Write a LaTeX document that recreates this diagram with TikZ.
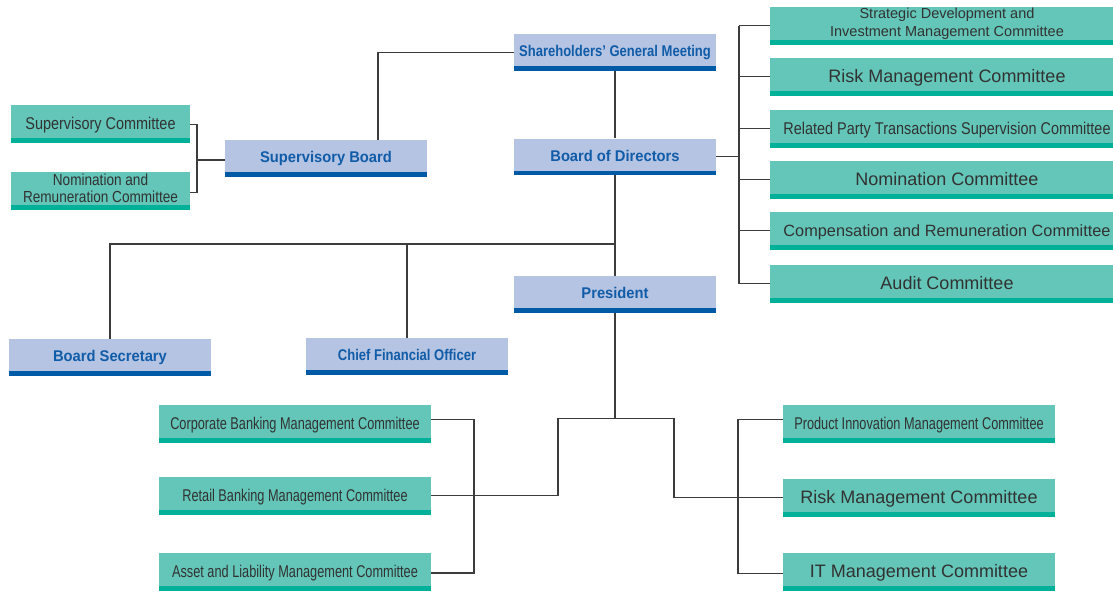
\documentclass[tikz,border=0pt]{standalone}
\usepackage{fontspec}
\usepackage{xcolor}
\setmainfont{Liberation Sans}
\newfontfamily\cmtfont{Liberation Sans}
\newfontfamily\cmtmid[FakeStretch=0.85]{Liberation Sans}
\newfontfamily\cmtnarrow[FakeStretch=0.75]{Liberation Sans}
\newfontfamily\blufont[FakeStretch=0.95]{Liberation Sans}
\newfontfamily\blucond[FakeStretch=0.84]{Liberation Sans}

\definecolor{boxblue}{RGB}{181,196,226}
\definecolor{barblue}{RGB}{0,90,165}
\definecolor{textblue}{RGB}{16,92,168}
\definecolor{boxgreen}{RGB}{99,198,184}
\definecolor{bargreen}{RGB}{0,176,152}
\definecolor{textgray}{RGB}{50,50,50}
\definecolor{linegray}{RGB}{60,60,60}

\begin{document}
\begin{tikzpicture}[x=1pt, y=-1pt]
    \tikzstyle{barred}=[append after command={\pgfextra{\fill[#1] (\tikzlastnode.south west) rectangle ([yshift=-4.5pt]\tikzlastnode.south east);}}]
    \tikzstyle{bluebox}=[fill=boxblue, text=textblue, minimum width=202pt, minimum height=32pt, inner sep=0pt,
        text height=13.7pt, text depth=0pt, font=\blufont\bfseries\fontsize{15.5}{17}\selectfont, barred=barblue]
    \tikzstyle{greenbox}=[fill=boxgreen, text=textgray, minimum width=#1, minimum height=33pt, inner sep=0pt, barred=bargreen]
    \tikzstyle{cmtwide}=[font=\cmtfont\fontsize{18}{20}\selectfont, text height=15.5pt, text depth=0pt]
    \tikzstyle{cmtmid}=[font=\cmtmid\fontsize{17}{19}\selectfont, text height=15pt, text depth=0pt]
    \tikzstyle{cmtnarrow}=[font=\cmtnarrow\fontsize{17}{19}\selectfont, text height=15pt, text depth=0pt]
    \tikzstyle{link}=[draw=linegray, line width=1.3pt]

    \useasboundingbox (0,0) rectangle (1113,590);

    % --- TOP: governing bodies ---
    \node[bluebox, font=\blucond\bfseries\fontsize{15.5}{17}\selectfont] (share) at (615,50) {Shareholders’ General Meeting};
    \node[bluebox] (board) at (615,154.5) {Board of Directors};
    \node[bluebox] (supb)  at (326,156)   {Supervisory Board};
    \node[bluebox] (pres)  at (615,292)   {President};
    \node[bluebox] (bsec)  at (110,355)   {Board Secretary};
    \node[bluebox, font=\blucond\bfseries\fontsize{15.5}{17}\selectfont] (cfo) at (407,354) {Chief Financial Officer};

    % --- Supervisory Board committees (left) ---
    \node[greenbox=179pt, cmtmid] (supc) at (100.5,121.5) {Supervisory Committee};
    \node[greenbox=179pt, align=center, font=\cmtmid\fontsize{16}{16.7}\selectfont] (nomrem) at (100.5,188.5)
        {Nomination and\\Remuneration Committee};

    % --- Board committees (right column, runs off the page edge) ---
    \node[greenbox=354pt, align=center, font=\cmtfont\fontsize{14.5}{17.5}\selectfont] (strat) at (947,23.5)
        {Strategic Development and\\Investment Management Committee};
    \node[greenbox=354pt, cmtwide] (riskc) at (947,74.5)  {Risk Management Committee};
    \node[greenbox=354pt, cmtmid]  (rpt)   at (947,126.5) {Related Party Transactions Supervision Committee};
    \node[greenbox=354pt, cmtwide] (nomc)  at (947,177.5) {Nomination Committee};
    \node[greenbox=354pt, cmtwide, font=\cmtfont\fontsize{16.3}{18}\selectfont] (comp) at (947,228.5)
        {Compensation and Remuneration Committee};
    \node[greenbox=354pt, cmtwide] (audit) at (947,281.5) {Audit Committee};

    % --- President committees (bottom) ---
    \node[greenbox=272pt, cmtnarrow] (corp)   at (295,421.5) {Corporate Banking Management Committee};
    \node[greenbox=272pt, cmtnarrow] (retail) at (295,493.5) {Retail Banking Management Committee};
    \node[greenbox=272pt, cmtnarrow] (alm)    at (295,569.5) {Asset and Liability Management Committee};
    \node[greenbox=272pt, cmtnarrow] (prod)   at (919,421.5) {Product Innovation Management Committee};
    \node[greenbox=272pt, cmtwide]   (riskb)  at (919,495.5) {Risk Management Committee};
    \node[greenbox=272pt, cmtwide]   (itc)    at (919,569.5) {IT Management Committee};

    % --- CONNECTORS ---
    \draw[link] ([yshift=-4.5pt]share.south) -- (board.north);
    \draw[link] ([xshift=52pt]supb.north) |- ([yshift=-2.25pt]share.west);

    % supervisory committees
    \coordinate (sj) at (197,160);
    \draw[link] ([yshift=-3pt]supc.east) -| (sj) |- ([yshift=-4pt]nomrem.east);
    \draw[link] (sj) -- (sj -| supb.west);

    % board down to president, secretary and CFO
    \draw[link] ([yshift=-4.5pt]board.south) -- (pres.north);
    \coordinate (hb) at (615,244);
    \draw[link] (bsec.north) |- (hb);
    \draw[link] (cfo.north) -- (cfo.north |- hb);

    % board committees
    \coordinate (rt) at (739,0);
    \coordinate (bj) at ([yshift=-2.25pt]board.east);
    \draw[link] (bj) -- (bj -| rt);
    \foreach \n in {strat,riskc,rpt,nomc,comp,audit} {
        \coordinate (\n-in) at ([yshift=-2.25pt]\n.west);
        \draw[link] (\n-in) -- (\n-in -| rt);
    }
    \draw[link] (strat-in -| rt) -- (audit-in -| rt);

    % president committees
    \coordinate (pj) at (615,418.7);
    \coordinate (mL) at (558,418.7);
    \coordinate (mR) at (674,418.7);
    \draw[link] ([yshift=-4.5pt]pres.south) -- (pj);
    \draw[link] ([yshift=-2.25pt]retail.east) -| (mL) -- (mR) |- ([yshift=-2.25pt]riskb.west);

    \coordinate (lt) at (474,0);
    \coordinate (corp-out) at ([yshift=2pt]corp.east);
    \coordinate (alm-out) at ([yshift=-3.5pt]alm.east);
    \draw[link] (corp-out) -| (lt |- alm-out) -- (alm-out);

    \coordinate (rb) at (738,0);
    \coordinate (prod-in) at ([yshift=1.8pt]prod.west);
    \coordinate (it-in) at ([yshift=-3.8pt]itc.west);
    \draw[link] (prod-in) -| (rb |- it-in) -- (it-in);

\end{tikzpicture}
\end{document}
